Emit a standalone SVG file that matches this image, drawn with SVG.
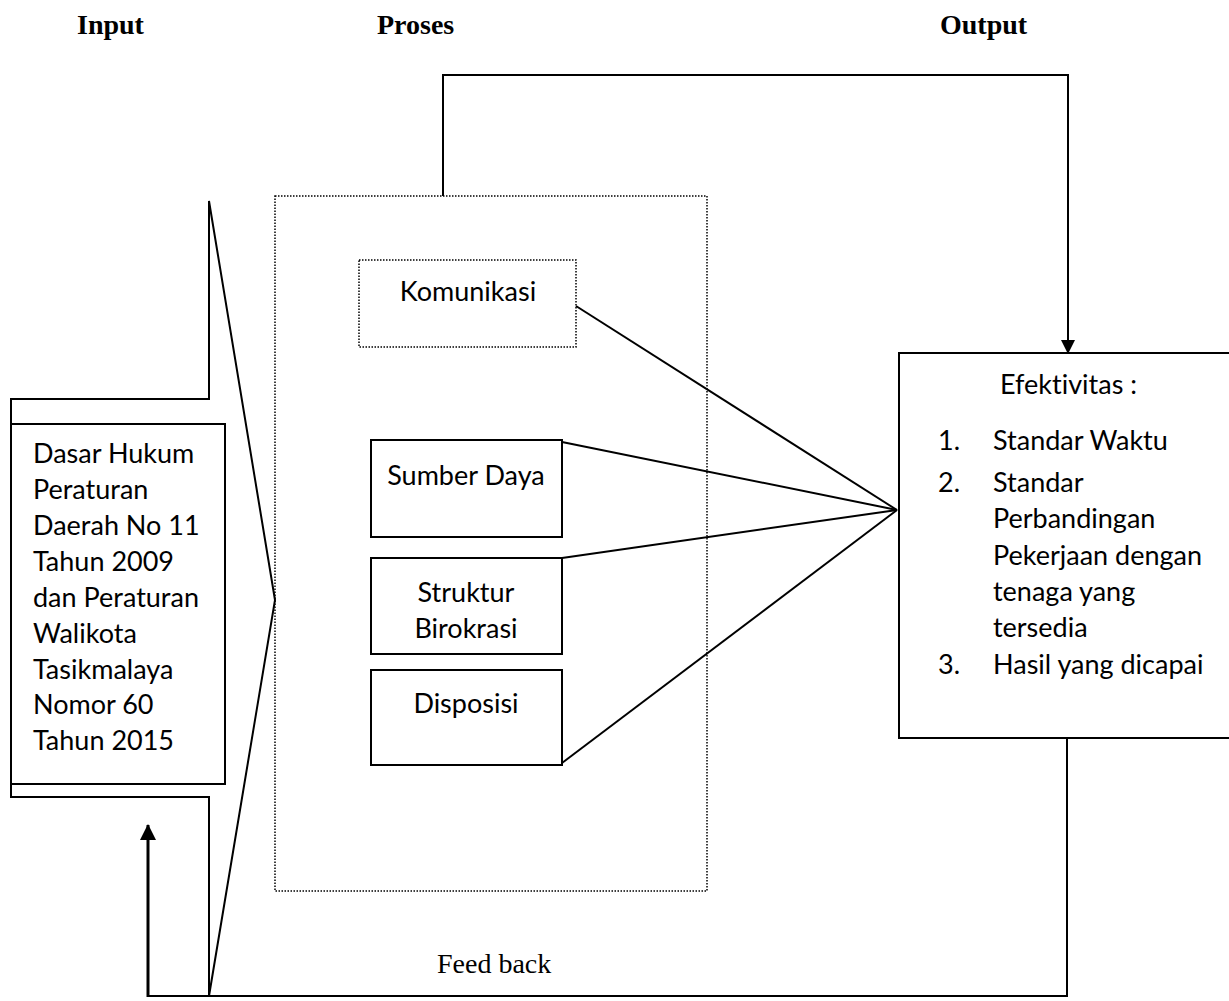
<svg xmlns="http://www.w3.org/2000/svg" width="1229" height="1001" viewBox="0 0 1229 1001">
<style>
.title{font-family:"Liberation Serif","Times New Roman",serif;font-weight:bold;font-size:28px;fill:#000}
.serif{font-family:"Liberation Serif","Times New Roman",serif;font-size:28px;fill:#000}
.t{font-family:Lato,"Open Sans",sans-serif;font-size:27px;fill:#000;font-variant-ligatures:none}
.c{text-anchor:middle}
.box{fill:#fff;stroke:#000;stroke-width:2}
.dot{fill:none;stroke:#000;stroke-width:1.5;stroke-dasharray:1.5 1.5}
.ln{fill:none;stroke:#000;stroke-width:2}
.thick{fill:none;stroke:#000;stroke-width:3}
</style>
<defs>
<marker id="ah" markerWidth="14" markerHeight="14" refX="13" refY="7" orient="auto" markerUnits="userSpaceOnUse">
<path d="M0,0 L14,7 L0,14 Z" fill="#000"/>
</marker>
<marker id="ah2" markerWidth="16" markerHeight="16" refX="15" refY="8" orient="auto" markerUnits="userSpaceOnUse">
<path d="M0,0 L16,8 L0,16 Z" fill="#000"/>
</marker>
</defs>
<rect width="1229" height="1001" fill="#fff"/>
<g id="titles">
<text class="title" x="77" y="34">Input</text>
<text class="title" x="377" y="34">Proses</text>
<text class="title" x="940" y="34">Output</text>
</g>
<g id="proses">
<rect class="dot" x="275" y="196" width="432" height="695"/>
</g>
<g id="input-arrow">
<path class="ln" d="M11,424 V399 H209 V201 L275,600 L209,996 V797 H11 V784"/>
</g>
<g id="input">
<rect class="box" x="11" y="424" width="214" height="360"/>
<text class="t" x="33" y="463">Dasar Hukum</text>
<text class="t" x="33" y="499">Peraturan</text>
<text class="t" x="33" y="535">Daerah No 11</text>
<text class="t" x="33" y="571">Tahun 2009</text>
<text class="t" x="33" y="607">dan Peraturan</text>
<text class="t" x="33" y="643">Walikota</text>
<text class="t" x="33" y="679">Tasikmalaya</text>
<text class="t" x="33" y="714">Nomor 60</text>
<text class="t" x="33" y="750">Tahun 2015</text>
</g>
<g id="komunikasi">
<rect class="dot" x="359" y="260" width="217" height="87"/>
<text class="t c" x="468" y="301">Komunikasi</text>
</g>
<g id="sumber-daya">
<rect class="box" x="371" y="440" width="191" height="97"/>
<text class="t c" x="466" y="485">Sumber Daya</text>
</g>
<g id="struktur-birokrasi">
<rect class="box" x="371" y="558" width="191" height="96"/>
<text class="t c" x="466" y="602">Struktur</text>
<text class="t c" x="466" y="638">Birokrasi</text>
</g>
<g id="disposisi">
<rect class="box" x="371" y="670" width="191" height="95"/>
<text class="t c" x="466" y="713">Disposisi</text>
</g>
<g id="efektivitas">
<rect class="box" x="899" y="353" width="345" height="385"/>
<text class="t" x="1000" y="394">Efektivitas :</text>
<text class="t" x="938" y="450">1.</text>
<text class="t" x="993" y="450">Standar Waktu</text>
<text class="t" x="938" y="492">2.</text>
<text class="t" x="993" y="492">Standar</text>
<text class="t" x="993" y="528">Perbandingan</text>
<text class="t" x="993" y="565">Pekerjaan dengan</text>
<text class="t" x="993" y="601">tenaga yang</text>
<text class="t" x="993" y="637">tersedia</text>
<text class="t" x="938" y="674">3.</text>
<text class="t" x="993" y="674">Hasil yang dicapai</text>
</g>
<g id="connectors">
<path class="ln" d="M443,196 V75 H1068 V353" marker-end="url(#ah)"/>
<line class="ln" x1="576" y1="306" x2="897" y2="510"/>
<line class="ln" x1="562" y1="442" x2="897" y2="510"/>
<line class="ln" x1="562" y1="558" x2="897" y2="510"/>
<line class="ln" x1="562" y1="763" x2="897" y2="510"/>
<path class="ln" d="M1067,738 V996 H148"/>
<path class="thick" d="M148,997 V825" marker-end="url(#ah2)"/>
<text class="serif" x="437" y="973">Feed back</text>
</g>
</svg>
